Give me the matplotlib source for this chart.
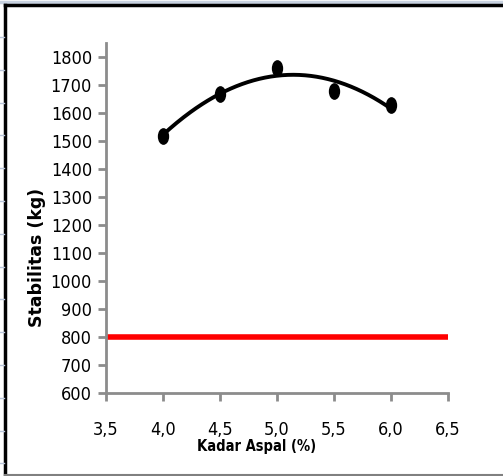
import matplotlib
matplotlib.use('Agg')
import matplotlib.pyplot as plt
import numpy as np
from matplotlib.lines import Line2D
from matplotlib.path import Path

# Data: stabilitas vs kadar aspal
kadar_aspal = [4.0, 4.5, 5.0, 5.5, 6.0]
stabilitas = [1518, 1668, 1761, 1679, 1629]
batas_x = [3.5, 6.5]
batas_min = [800, 800]
x_ticks = [3.5, 4.0, 4.5, 5.0, 5.5, 6.0, 6.5]
x_labels = ['3,5', '4,0', '4,5', '5,0', '5,5', '6,0', '6,5']
y_ticks = list(range(600, 1801, 100))

W, H = 503, 476
fig = plt.figure(figsize=(W / 100, H / 100), dpi=100)
ax = fig.add_axes([106 / W, 1 - 393 / H, (448 - 106) / W, (393 - 43) / H])

axis_grey = '#8c8c8c'

# garis batas minimum
ax.plot(batas_x, batas_min, color='#ff0000', lw=4, solid_capstyle='butt',
        clip_on=False, zorder=2)

# trendline polinomial orde 2
coef = np.polyfit(kadar_aspal, stabilitas, 2)
xs = np.linspace(min(kadar_aspal), max(kadar_aspal), 200)
ax.plot(xs, np.polyval(coef, xs), color='black', lw=2.8, zorder=3)

# marker elips (lebih tinggi dari lebar)
circ = Path.unit_circle()
ellipse = Path(circ.vertices * np.array([0.65, 1.0]), circ.codes)
ax.plot(kadar_aspal, stabilitas, linestyle='none', marker=ellipse,
        markersize=11, color='black', zorder=4)

ax.set_xlim(3.5, 6.5)
ax.set_ylim(600, 1850)
ax.set_xticks(x_ticks)
ax.set_xticklabels(x_labels)
ax.set_yticks(y_ticks)

for s in ['top', 'right']:
    ax.spines[s].set_visible(False)
for s in ['left', 'bottom']:
    ax.spines[s].set_color(axis_grey)
    ax.spines[s].set_linewidth(2)
ax.tick_params(axis='both', colors=axis_grey, width=2, length=6, direction='out',
               labelcolor='black', labelsize=13)
ax.tick_params(axis='y', pad=4)
ax.tick_params(axis='x', pad=14)
for lbl in ax.get_xticklabels() + ax.get_yticklabels():
    lbl.set_family('DejaVu Sans')
    lbl.set_stretch('condensed')

fig.text(257 / W, 1 - 446 / H, 'Kadar Aspal (%)', ha='center', va='center',
         fontsize=10.5, fontweight='bold', family='DejaVu Sans',
         stretch='condensed')
fig.text(37 / W, 1 - 257 / H, 'Stabilitas (kg)', ha='center', va='center',
         rotation=90, fontsize=12.5, fontweight='bold', family='DejaVu Sans',
         stretch='normal')

# bingkai luar
def px_line(x0, y0, x1, y1, **kw):
    fig.add_artist(Line2D([x0 / W, x1 / W], [1 - y0 / H, 1 - y1 / H],
                          transform=fig.transFigure, **kw))

px_line(0, 1.5, W, 1.5, color='#c8d2e0', lw=2.5)
px_line(5, 5, W, 5, color='black', lw=2.5)
px_line(5, 5, 5, 475, color='black', lw=2.5)
px_line(5, 474.5, W, 474.5, color='#808080', lw=1.5)
for y in np.arange(37, 470, 32.8):
    px_line(0, y, 4, y, color='#b8c4d8', lw=1)

fig.savefig('out.png', dpi=100)
